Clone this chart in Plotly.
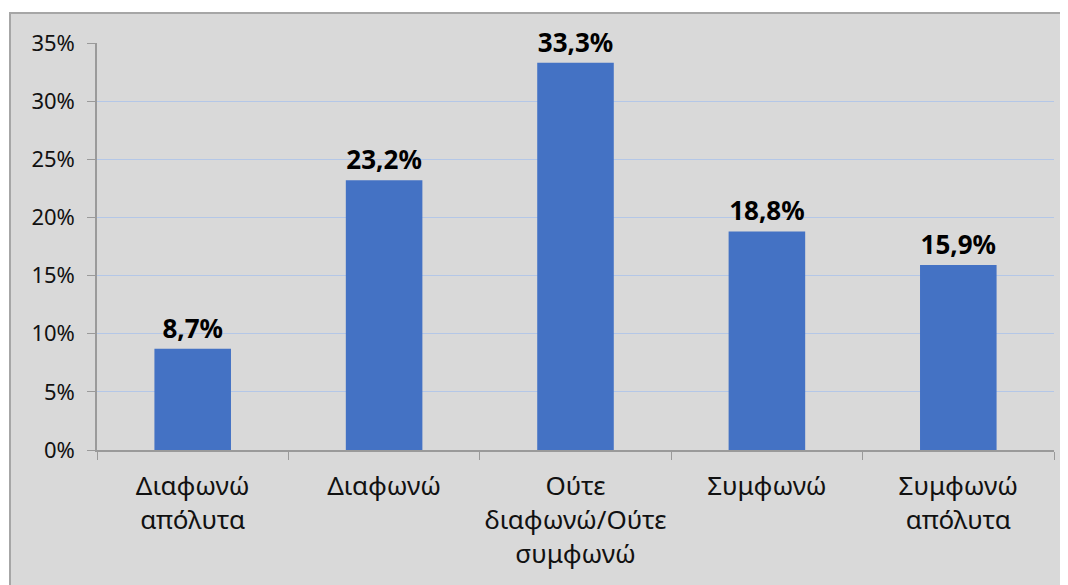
import plotly.graph_objects as go

categories = [
    "Διαφωνώ<br>απόλυτα",
    "Διαφωνώ",
    "Ούτε<br>διαφωνώ/Ούτε<br>συμφωνώ",
    "Συμφωνώ",
    "Συμφωνώ<br>απόλυτα",
]
shares = [0.087, 0.232, 0.333, 0.188, 0.159]

# page body has an 8px margin, so the figure is a bit smaller than the window
OFF = 8
W, H = 1068 - OFF, 585 - OFF
ML, MT = 97 - OFF, 43 - OFF
MR = W - (1054 - OFF)
MB = H - (450 - OFF)
pw, ph = W - ML - MR, H - MT - MB

FONT = "Noto Sans, Open Sans, sans-serif"

fig = go.Figure(
    go.Bar(
        x=categories,
        y=shares,
        marker=dict(color="#4472c4", line=dict(width=0)),
        texttemplate="<b>%{y:.1%}</b>",
        textposition="outside",
        textfont=dict(size=26, color="#000000", family=FONT),
        cliponaxis=False,
    )
)

# outer chart frame (gray box with border)
fig.add_shape(
    type="rect", xref="paper", yref="paper", layer="below",
    x0=(10 - OFF - ML) / pw, x1=(1063 - OFF - ML) / pw,
    y0=-(MB + 10) / ph, y1=1 + (MT - (13 - OFF)) / ph,
    fillcolor="#d9d9d9", line=dict(color="#a6a6a6", width=2),
)

fig.update_layout(
    width=W,
    height=H,
    margin=dict(l=ML, r=MR, t=MT, b=MB),
    paper_bgcolor="white",
    plot_bgcolor="rgba(0,0,0,0)",
    separators=",.",
    bargap=0.6,
    showlegend=False,
    font=dict(family=FONT, size=22, color="#111111"),
)
fig.update_yaxes(
    range=[0, 0.35],
    dtick=0.05,
    tickformat=".0%",
    showgrid=True,
    gridcolor="#b4c7e7",
    gridwidth=1,
    zeroline=False,
    showline=True,
    linecolor="#9a9a9a",
    linewidth=1.5,
    ticks="outside",
    ticklen=8,
    tickcolor="#9a9a9a",
    ticklabelstandoff=8,
    tickfont=dict(size=22),
)
fig.update_xaxes(
    showline=True,
    linecolor="#9a9a9a",
    linewidth=1.5,
    ticks="outside",
    tickson="boundaries",
    ticklen=8,
    tickcolor="#9a9a9a",
    tickfont=dict(size=26),
    ticklabelstandoff=12,
)

fig.write_html("out.html")
